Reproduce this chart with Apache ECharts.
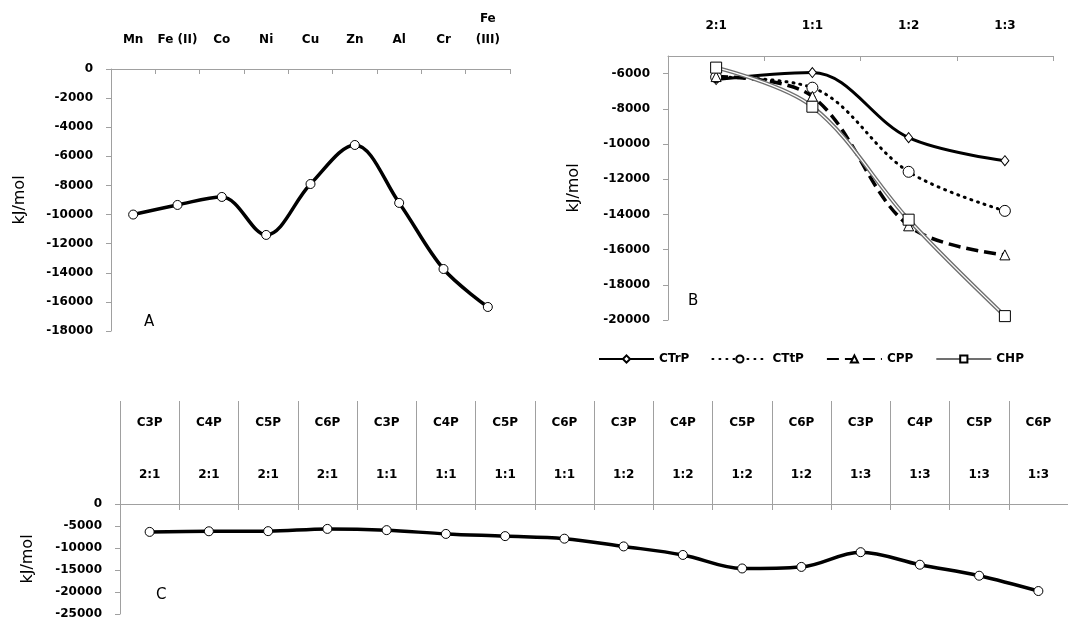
<!DOCTYPE html>
<html>
<head>
<meta charset="utf-8">
<title>kJ/mol</title>
<script src="https://cdn.jsdelivr.net/npm/echarts@6/dist/echarts.min.js"></script>
<style>
    html, body { margin: 0; padding: 0; background: #fff; }
    #chart { width: 1068px; height: 620px; }
</style>
</head>
<body>
<div id="chart"></div>
<script>
// panel A - metals
const metals = ['Mn', 'Fe (II)', 'Co', 'Ni', 'Cu', 'Zn', 'Al', 'Cr', 'Fe\n(III)'];
const metalValues = [-10000, -9340, -8790, -11400, -7900, -5220, -9200, -13740, -16350];

// panel B - ratios, one array per compound
const ratios = ['2:1', '1:1', '1:2', '1:3'];
const ctrp = [-6340, -5940, -9640, -10950];
const cttp = [-6200, -6800, -11580, -13800];
const cpp = [-6170, -7300, -14650, -16300];
const chp = [-5660, -7880, -14300, -19780];

// panel C - same values, ordered by ratio then chain
const chains = ['C3P', 'C4P', 'C5P', 'C6P'];

const cLabels = [];
const cValues = [];
const byChain = [ctrp, cttp, cpp, chp];
ratios.forEach(function (r, i) {
    chains.forEach(function (c, j) {
        cLabels.push(c + '\n\n' + r);
        cValues.push(byChain[j][i]);
    });
});

const axisColor = '#a0a0a0';
const font = 'DejaVu Sans';

function catAxis(gridIndex, data, margin, lineHeight) {
    return {
        type: 'category',
        gridIndex: gridIndex,
        position: 'top',
        data: data,
        boundaryGap: true,
        axisLine: { show: true, onZero: false, lineStyle: { color: axisColor, width: 1 } },
        axisTick: { show: true, interval: 0, inside: true, length: 5, lineStyle: { color: axisColor } },
        axisLabel: {
            interval: 0,
            margin: margin,
            color: '#000',
            fontWeight: 'bold',
            fontSize: 12,
            lineHeight: lineHeight,
            fontFamily: font
        },
        splitLine: { show: false }
    };
}

function valAxis(gridIndex, min, max, interval, nameGap) {
    return {
        type: 'value',
        gridIndex: gridIndex,
        min: min,
        max: max,
        interval: interval,
        name: 'kJ/mol',
        nameLocation: 'middle',
        nameGap: nameGap,
        nameTextStyle: { color: '#000', fontSize: 16, fontFamily: font },
        axisLine: { show: true, lineStyle: { color: axisColor, width: 1 } },
        axisTick: { show: true, length: 5, lineStyle: { color: axisColor } },
        axisLabel: {
            color: '#000',
            fontWeight: 'bold',
            fontSize: 12,
            margin: 18,
            fontFamily: font,
            formatter: function (v) {
                return String(v);
            }
        },
        splitLine: { show: false }
    };
}

const chart = echarts.init(document.getElementById('chart'));

const cX = catAxis(2, cLabels, 16, 26);
cX.axisTick = { show: true, interval: 0, inside: false, length: 103, lineStyle: { color: axisColor } };

const bY = valAxis(1, -20000, -5000, 2000, 86);
bY.axisLabel.showMaxLabel = false;

const option = {
    animation: false,
    textStyle: { fontFamily: font },
    title: [
        { text: 'A', left: 139, top: 310, textStyle: { fontSize: 15, fontWeight: 'normal', color: '#000' } },
        { text: 'B', left: 683, top: 289, textStyle: { fontSize: 15, fontWeight: 'normal', color: '#000' } },
        { text: 'C', left: 151, top: 583, textStyle: { fontSize: 15, fontWeight: 'normal', color: '#000' } }
    ],
    grid: [
        { left: 111, top: 69, width: 399, height: 262 },
        { left: 668, top: 56, width: 385, height: 264 },
        { left: 120, top: 504, width: 959, height: 112 }
    ],
    legend: {
        data: [
            'CTrP', 'CTtP', 'CPP',
            { name: 'CHP', lineStyle: { color: '#707070', width: 2 } }
        ],
        left: 593,
        top: 348,
        itemWidth: 55,
        itemHeight: 9,
        itemGap: 22,
        textStyle: { color: '#000', fontWeight: 'bold', fontSize: 12, fontFamily: font }
    },
    xAxis: [
        catAxis(0, metals, 19, 21),
        catAxis(1, ratios, 23, 14),
        cX,
        {
            // short ticks below the axis line of panel C
            type: 'category',
            gridIndex: 2,
            position: 'top',
            data: cLabels,
            axisLine: { show: false, onZero: false },
            axisTick: { show: true, interval: 0, inside: true, length: 6, lineStyle: { color: axisColor } },
            axisLabel: { show: false }
        }
    ],
    yAxis: [
        valAxis(0, -18000, 0, 2000, 83),
        bY,
        valAxis(2, -25000, 0, 5000, 84)
    ],
    series: [
        {
            name: 'metals',
            type: 'line',
            xAxisIndex: 0,
            yAxisIndex: 0,
            data: metalValues,
            smooth: 0.35,
            symbol: 'circle',
            symbolSize: 9,
            lineStyle: { color: '#000', width: 3.5 },
            itemStyle: { color: '#fff', borderColor: '#000', borderWidth: 1 }
        },
        {
            name: 'CTrP',
            type: 'line',
            xAxisIndex: 1,
            yAxisIndex: 1,
            data: ctrp,
            smooth: 0.35,
            symbol: 'diamond',
            symbolSize: [8, 10],
            lineStyle: { color: '#000', width: 3 },
            itemStyle: { color: '#fff', borderColor: '#000', borderWidth: 1 }
        },
        {
            name: 'CTtP',
            type: 'line',
            xAxisIndex: 1,
            yAxisIndex: 1,
            data: cttp,
            smooth: 0.35,
            symbol: 'circle',
            symbolSize: 11,
            lineStyle: { color: '#000', width: 3, type: [1, 6], cap: 'round' },
            itemStyle: { color: '#fff', borderColor: '#000', borderWidth: 1 }
        },
        {
            name: 'CPP',
            type: 'line',
            xAxisIndex: 1,
            yAxisIndex: 1,
            data: cpp,
            smooth: 0.35,
            symbol: 'triangle',
            symbolSize: 10,
            lineStyle: { color: '#000', width: 3.5, type: [12, 6] },
            itemStyle: { color: '#fff', borderColor: '#000', borderWidth: 1 }
        },
        {
            name: 'CHP outer',
            type: 'line',
            xAxisIndex: 1,
            yAxisIndex: 1,
            data: chp,
            smooth: 0.35,
            symbol: 'none',
            lineStyle: { color: '#707070', width: 4 }
        },
        {
            name: 'CHP',
            type: 'line',
            xAxisIndex: 1,
            yAxisIndex: 1,
            data: chp,
            smooth: 0.35,
            symbol: 'rect',
            symbolSize: 11,
            lineStyle: { color: '#fff', width: 1.3 },
            itemStyle: { color: '#fff', borderColor: '#000', borderWidth: 1 }
        },
        {
            name: 'chains',
            type: 'line',
            xAxisIndex: 2,
            yAxisIndex: 2,
            data: cValues,
            smooth: 0.35,
            symbol: 'circle',
            symbolSize: 9,
            lineStyle: { color: '#000', width: 3.5 },
            itemStyle: { color: '#fff', borderColor: '#000', borderWidth: 1 }
        }
    ]
};

chart.setOption(option);

window.addEventListener('resize', () => {
    chart.resize();
});
</script>
</body>
</html>
